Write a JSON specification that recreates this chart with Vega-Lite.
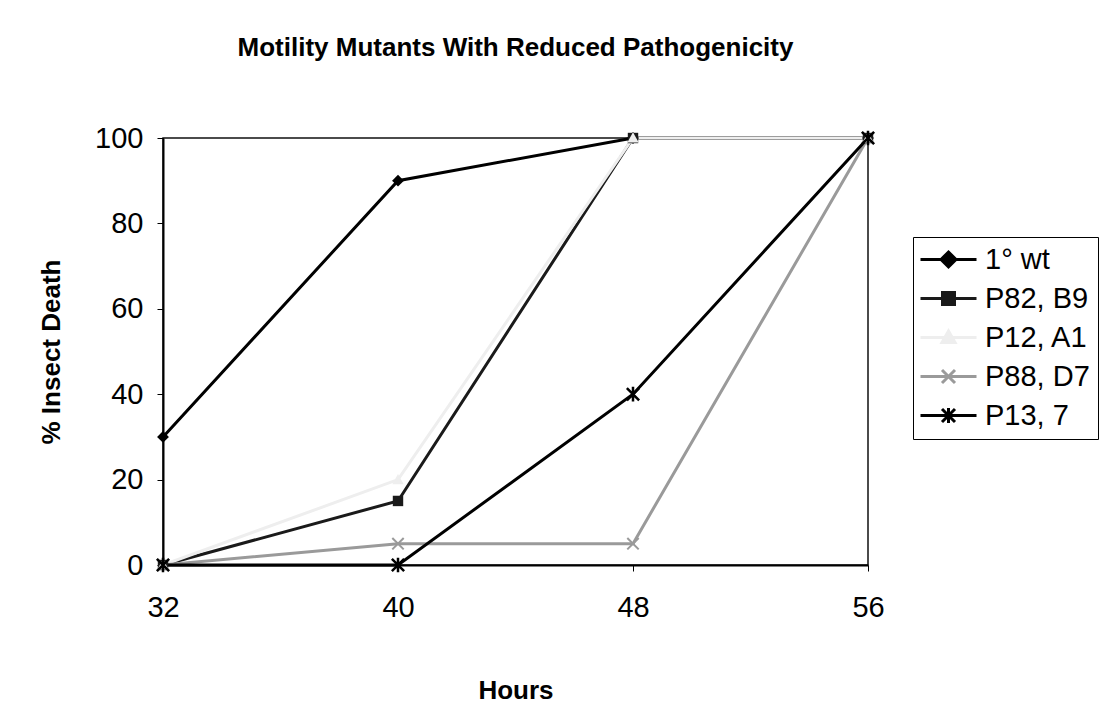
{
  "$schema": "https://vega.github.io/schema/vega-lite/v6.json",
  "autosize": "none",
  "width": 705,
  "height": 427,
  "padding": {"left": 163, "top": 138, "right": 240, "bottom": 145},
  "background": "white",
  "title": {
    "text": "Motility Mutants With Reduced Pathogenicity",
    "font": "Liberation Sans",
    "fontSize": 26,
    "fontWeight": "bold",
    "color": "black",
    "anchor": "middle",
    "baseline": "alphabetic",
    "offset": 42
  },
  "data": {
    "values": [
      {"series": "1° wt", "hours": 32, "death": 30},
      {"series": "1° wt", "hours": 40, "death": 90},
      {"series": "1° wt", "hours": 48, "death": 100},
      {"series": "1° wt", "hours": 56, "death": 100},
      {"series": "P82, B9", "hours": 32, "death": 0},
      {"series": "P82, B9", "hours": 40, "death": 15},
      {"series": "P82, B9", "hours": 48, "death": 100},
      {"series": "P82, B9", "hours": 56, "death": 100},
      {"series": "P12, A1", "hours": 32, "death": 0},
      {"series": "P12, A1", "hours": 40, "death": 20},
      {"series": "P12, A1", "hours": 48, "death": 100},
      {"series": "P12, A1", "hours": 56, "death": 100},
      {"series": "P88, D7", "hours": 32, "death": 0},
      {"series": "P88, D7", "hours": 40, "death": 5},
      {"series": "P88, D7", "hours": 48, "death": 5},
      {"series": "P88, D7", "hours": 56, "death": 100},
      {"series": "P13, 7", "hours": 32, "death": 0},
      {"series": "P13, 7", "hours": 40, "death": 0},
      {"series": "P13, 7", "hours": 48, "death": 40},
      {"series": "P13, 7", "hours": 56, "death": 100}
    ]
  },
  "encoding": {
    "x": {
      "field": "hours",
      "type": "quantitative",
      "scale": {"domain": [32, 56], "nice": false, "zero": false},
      "axis": {
        "values": [32, 40, 48, 56],
        "title": "Hours",
        "grid": false,
        "domainColor": "black",
        "domainWidth": 2,
        "tickColor": "black",
        "tickSize": 6,
        "tickWidth": 1,
        "labelFont": "Liberation Sans",
        "labelFontSize": 29,
        "labelColor": "black",
        "labelPadding": 22,
        "labelFlush": false,
        "titleFont": "Liberation Sans",
        "titleFontSize": 26,
        "titleFontWeight": "bold",
        "titleColor": "black",
        "titlePadding": 55
      }
    },
    "y": {
      "field": "death",
      "type": "quantitative",
      "scale": {"domain": [0, 100], "nice": false},
      "axis": {
        "values": [0, 20, 40, 60, 80, 100],
        "title": "% Insect Death",
        "grid": false,
        "domainColor": "black",
        "domainWidth": 2,
        "tickColor": "black",
        "tickSize": 6,
        "tickWidth": 1,
        "labelFont": "Liberation Sans",
        "labelFontSize": 29,
        "labelColor": "black",
        "labelPadding": 14,
        "labelFlush": false,
        "titleFont": "Liberation Sans",
        "titleFontSize": 26,
        "titleFontWeight": "bold",
        "titleColor": "black",
        "titlePadding": 30
      }
    }
  },
  "layer": [
    {
      "mark": {"type": "line", "clip": false},
      "encoding": {
        "color": {
          "field": "series",
          "type": "nominal",
          "scale": {
            "domain": ["1° wt", "P82, B9", "P12, A1", "P88, D7", "P13, 7"],
            "range": ["#000000", "#1a1a1a", "#eeeeee", "#9a9a9a", "#000000"]
          },
          "legend": {
            "orient": "none",
            "legendX": 750,
            "legendY": 99,
            "title": null,
            "labelFont": "Liberation Sans",
            "labelFontSize": 29,
            "labelColor": "black",
            "strokeColor": "black",
            "fillColor": "white",
            "padding": 8,
            "symbolSize": 100,
            "symbolOffset": 13,
            "labelOffset": 22,
            "rowPadding": 9,
            "encode": {
              "symbols": {
                "update": {
                  "shape": {"signal": "datum.value === '1° wt' ? 'M-5.6,0L5.6,0M0,-1.5L1.5,0L0,1.5L-1.5,0Z' : datum.value === 'P82, B9' ? 'M-5.6,0L5.6,0M-1.2,-1.2L1.2,-1.2L1.2,1.2L-1.2,1.2Z' : datum.value === 'P12, A1' ? 'M-5.6,0L5.6,0M0,-1.3L1.3,1L-1.3,1Z' : datum.value === 'P88, D7' ? 'M-5.6,0L5.6,0M-1.3,-1.3L1.3,1.3M-1.3,1.3L1.3,-1.3' : 'M-5.6,0L5.6,0M-1.3,-1.3L1.3,1.3M-1.3,1.3L1.3,-1.3M0,-1.5L0,1.5'"},
                  "fill": {"signal": "scale('color', datum.value)"},
                  "opacity": {"value": 1}
                }
              }
            }
          }
        },
        "strokeWidth": {
          "field": "series",
          "type": "nominal",
          "scale": {
            "domain": ["1° wt", "P82, B9", "P12, A1", "P88, D7", "P13, 7"],
            "range": [3, 3, 1.2, 1.6, 3]
          },
          "legend": null
        }
      }
    },
    {
      "transform": [{"filter": "datum.series === '1° wt'"}],
      "mark": {"type": "point", "shape": "M0,-1L1,0L0,1L-1,0Z", "filled": true, "color": "#000000", "size": 140, "opacity": 1, "clip": false}
    },
    {
      "transform": [{"filter": "datum.series === 'P82, B9'"}],
      "mark": {"type": "point", "shape": "M-0.85,-0.85L0.85,-0.85L0.85,0.85L-0.85,0.85Z", "filled": true, "color": "#1a1a1a", "size": 150, "opacity": 1, "clip": false}
    },
    {
      "transform": [{"filter": "datum.series === 'P12, A1'"}],
      "mark": {"type": "point", "shape": "M0,-1L1,0.8L-1,0.8Z", "filled": true, "color": "#eeeeee", "size": 130, "opacity": 1, "clip": false}
    },
    {
      "transform": [{"filter": "datum.series === 'P88, D7'"}],
      "mark": {"type": "point", "shape": "M-1,-1L1,1M-1,1L1,-1", "filled": false, "color": "#9a9a9a", "strokeWidth": 2, "size": 130, "opacity": 1, "clip": false}
    },
    {
      "transform": [{"filter": "datum.series === 'P13, 7'"}],
      "mark": {"type": "point", "shape": "M-1,-1L1,1M-1,1L1,-1M0,-1.2L0,1.2", "filled": false, "color": "#000000", "strokeWidth": 2.5, "size": 150, "opacity": 1, "clip": false}
    }
  ],
  "config": {
    "view": {"stroke": "#111111", "strokeWidth": 1.5}
  }
}
